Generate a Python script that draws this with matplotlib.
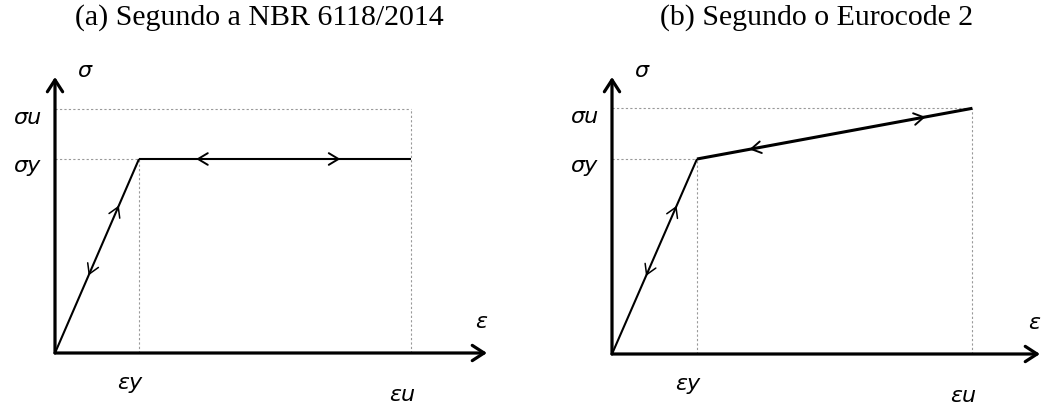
import matplotlib.pyplot as plt

# Diagrama tensao-deformacao do aco (unidades normalizadas)
eps_y = 1.0
eps_u = 4.24
sig_y = 1.0
sig_u = 1.26

titles = ['(a) Segundo a NBR 6118/2014', '(b) Segundo o Eurocode 2']
# tensao no ponto ultimo: patamar (NBR) e endurecimento (EC2)
sig_end = [sig_y, sig_u]

W, H = 1041, 406
fig = plt.figure(figsize=(W / 100, H / 100), dpi=100)

# layout em pixels: origem, escala x, escala y, faixa horizontal da area
panels = [
    dict(ox=55, oy=354, sx=84, sy=194, x0=0, x1=520, tip_x=487),
    dict(ox=612, oy=355, sx=85, sy=195, x0=520, x1=1041, tip_x=1040),
]
top_px = 40
tip_y_px = 78

# posicoes (fracao ao longo do segmento) das setas sobre as curvas
elastic_marks = [(0.76, 1), (0.40, -1)]
plastic_marks = [[(0.21, -1), (0.74, 1)], [(0.19, -1), (0.83, 1)]]

sans = ['DejaVu Sans']
lab_kw = dict(fontsize=16, style='italic', family=sans,
              textcoords='offset pixels', ha='center', va='center')


def chevron(ax, p0, p1, frac, direction, lw):
    # pequena seta aberta sobre o segmento p0-p1
    dx = p1[0] - p0[0]
    dy = p1[1] - p0[1]
    hx = p0[0] + frac * dx
    hy = p0[1] + frac * dy
    d = 0.02 * direction
    ax.annotate('', xy=(hx, hy), xytext=(hx - d * dx, hy - d * dy),
                arrowprops=dict(arrowstyle='->,head_length=0.7,head_width=0.42',
                                lw=lw, color='black', shrinkA=0, shrinkB=0))


for i, p in enumerate(panels):
    ax = fig.add_axes([p['x0'] / W, 0, (p['x1'] - p['x0']) / W, (H - top_px) / H])
    ax.set_xlim((p['x0'] - p['ox']) / p['sx'], (p['x1'] - p['ox']) / p['sx'])
    ax.set_ylim((p['oy'] - H) / p['sy'], (p['oy'] - top_px) / p['sy'])
    ax.axis('off')

    x_tip = (p['tip_x'] - p['ox']) / p['sx']
    y_tip = (p['oy'] - tip_y_px) / p['sy']

    # linhas auxiliares tracejadas
    dot = dict(color='#999999', lw=0.8, ls=(0, (2, 2)))
    ax.plot([0, eps_u], [sig_u, sig_u], **dot)
    ax.plot([0, eps_y], [sig_y, sig_y], **dot)
    ax.plot([eps_y, eps_y], [0, sig_y], **dot)
    ax.plot([eps_u, eps_u], [0, sig_u], **dot)

    # eixos com setas
    axis_arrow = dict(arrowstyle='->,head_length=0.85,head_width=0.55',
                      lw=2.3, color='black', shrinkA=0, shrinkB=0)
    ax.annotate('', xy=(x_tip, 0), xytext=(0, 0), arrowprops=axis_arrow)
    ax.annotate('', xy=(0, y_tip), xytext=(0, 0), arrowprops=axis_arrow)

    # curva tensao-deformacao
    ax.plot([0, eps_y], [0, sig_y], color='black', lw=1.5,
            solid_capstyle='butt')
    lw2 = 1.5 if i == 0 else 2.2
    ax.plot([eps_y, eps_u], [sig_y, sig_end[i]], color='black', lw=lw2,
            solid_capstyle='butt')

    for frac, dr in elastic_marks:
        chevron(ax, (0, 0), (eps_y, sig_y), frac, dr, 1.1)
    for frac, dr in plastic_marks[i]:
        chevron(ax, (eps_y, sig_y), (eps_u, sig_end[i]), frac, dr, 1.4)

    # rotulos
    ax.annotate('σ', xy=(0, y_tip), xytext=(29, 7), **lab_kw)
    ax.annotate('σu', xy=(0, sig_u), xytext=(-28, -8), **lab_kw)
    ax.annotate('σy', xy=(0, sig_y), xytext=(-28, -6), **lab_kw)
    ax.annotate('εy', xy=(eps_y, 0), xytext=(-9, -29), **lab_kw)
    ax.annotate('εu', xy=(eps_u, 0), xytext=(-9, -41), **lab_kw)
    ax.annotate('ε', xy=(x_tip, 0), xytext=(-6, 32), **lab_kw)

fig.text(259 / W, 1 - 18 / H, titles[0], ha='center', va='center',
         fontsize=21.5, family='Liberation Serif')
fig.text(817 / W, 1 - 18 / H, titles[1], ha='center', va='center',
         fontsize=21.5, family='Liberation Serif')

fig.savefig('out.png', dpi=100)
